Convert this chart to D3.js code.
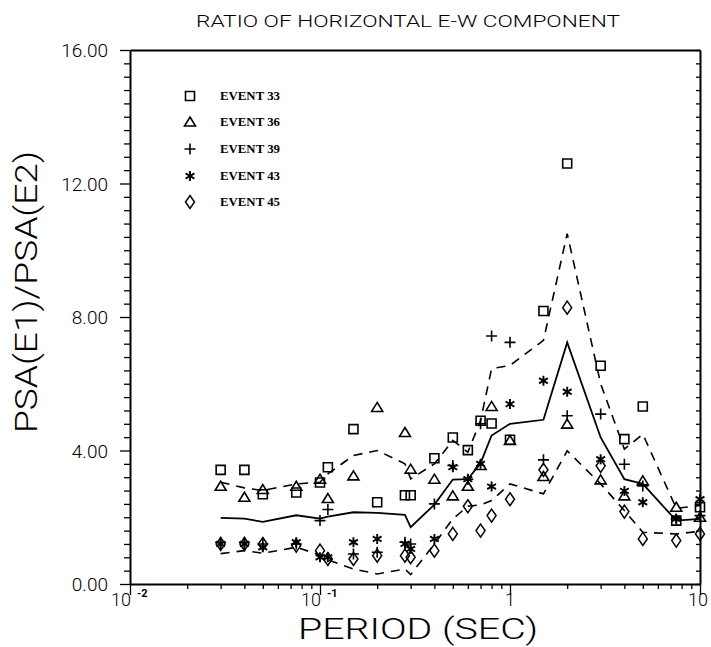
<!DOCTYPE html>
<html>
<head>
<meta charset="utf-8">
<script src="https://cdn.jsdelivr.net/npm/d3@7"></script>
<style>
  html, body { margin: 0; padding: 0; background: #fff; }
  svg { display: block; }
  text { fill: #000; }
</style>
</head>
<body>
<svg id="chart" width="711" height="647"></svg>
<script>
// ---- data ----
const periods = [0.03,0.04,0.05,0.075,0.1,0.11,0.15,0.2,0.28,0.3,0.4,0.5,0.6,0.7,0.8,1,1.5,2,3,4,5,7.5,10];
const event33 = [3.42,3.42,2.69,2.74,3.04,3.50,4.64,2.45,2.66,2.66,3.77,4.39,4.01,4.89,4.81,4.32,8.18,12.60,6.54,4.34,5.32,1.90,2.30];
const event36 = [2.93,2.60,2.83,2.93,3.14,2.56,3.24,5.29,4.54,3.44,3.14,2.64,2.93,3.55,5.32,4.30,3.22,4.79,3.12,2.64,3.09,2.30,2.00];
const event39 = [1.25,1.25,1.20,1.20,1.90,2.23,0.90,0.95,1.25,1.20,2.40,3.55,3.14,4.80,7.43,7.24,3.72,5.04,5.09,3.59,2.94,1.95,2.05];
const event43 = [1.20,1.20,1.10,1.25,0.80,0.80,1.25,1.35,1.20,1.05,1.35,3.50,3.14,3.60,2.92,5.39,6.09,5.76,3.74,2.79,2.45,1.95,2.54];
const event45 = [1.20,1.20,1.20,1.15,1.00,0.75,0.75,0.85,0.85,0.80,1.00,1.50,2.33,1.60,2.05,2.54,3.42,8.28,3.54,2.17,1.35,1.30,1.50];
const meanRatio  = [1.98,1.96,1.86,2.06,1.96,2.02,2.15,2.13,2.07,1.70,2.38,3.13,3.14,3.62,4.45,4.80,4.92,7.24,4.39,3.14,3.00,1.90,1.95];
const upperRatio = [3.05,2.88,2.80,3.00,3.05,3.30,3.85,4.00,3.60,3.15,3.60,4.30,3.95,4.90,6.45,6.55,7.30,10.50,6.00,4.04,4.49,2.27,2.35];
const lowerRatio = [0.91,1.00,0.92,1.10,0.87,0.72,0.45,0.30,0.45,0.28,1.20,1.95,2.33,2.37,2.50,3.00,2.70,3.99,3.00,2.20,1.55,1.50,1.58];
const eventNames = ["EVENT 33","EVENT 36","EVENT 39","EVENT 43","EVENT 45"];
const yTickLabels = [0, 4, 8, 12, 16];
const xMajorTicks = [0.01, 0.1, 1, 10];
const titleText = "RATIO OF HORIZONTAL E-W COMPONENT";
const xTitle = "PERIOD (SEC)";
const yTitle = "PSA(E1)/PSA(E2)";

// ---- layout ----
const L = 130, R = 700, T = 50, B = 584;
const svg = d3.select("#chart");
const x = d3.scaleLog().domain([0.01, 10]).range([L, R]);
const y = d3.scaleLinear().domain([0, 16]).range([B, T]);
const font = "Roboto, 'Open Sans', 'DejaVu Sans', sans-serif";

// marker shapes
const shapes = {
  square:  "M-4.5,-4.5H4.5V4.5H-4.5Z",
  triangle:"M0,-5L5.5,4L-5.5,4Z",
  plus:    "M-5.5,0H5.5M0,-5.5V5.5",
  star:    "M0,-5V5M-4.4,-2.6L4.4,2.6M-4.4,2.6L4.4,-2.6",
  diamond: "M0,-6.5L4.5,0L0,6.5L-4.5,0Z"
};
const series = [
  {name: eventNames[0], values: event33, shape: "square",   sw: 1.6},
  {name: eventNames[1], values: event36, shape: "triangle", sw: 1.6},
  {name: eventNames[2], values: event39, shape: "plus",     sw: 1.6},
  {name: eventNames[3], values: event43, shape: "star",     sw: 1.9},
  {name: eventNames[4], values: event45, shape: "diamond",  sw: 1.5}
];

// ---- axes ----
const logTicks = [];
for (let e = -2; e <= 0; e++) for (let k = 1; k <= 9; k++) logTicks.push(k * Math.pow(10, e));
logTicks.push(10);
const xMinor = logTicks.filter(v => !xMajorTicks.some(m => Math.abs(m - v) < 1e-9));

function styleAxis(g, w) {
  g.selectAll("path.domain").attr("stroke", "#000").attr("stroke-width", w || 2);
  g.selectAll(".tick line").attr("stroke", "#000").attr("stroke-width", 1.3);
  g.selectAll(".tick text").remove();
}

// bottom axis (minor + major)
svg.append("g").attr("transform", `translate(0,${B})`)
  .call(d3.axisBottom(x).tickValues(xMinor).tickSizeInner(5).tickSizeOuter(0).tickFormat(""))
  .call(g => styleAxis(g, 2));
svg.append("g").attr("transform", `translate(0,${B})`)
  .call(d3.axisBottom(x).tickValues(xMajorTicks).tickSizeInner(11).tickSizeOuter(0).tickFormat(""))
  .call(g => { styleAxis(g, 2); g.select("path.domain").remove(); });

// top frame
svg.append("g").attr("transform", `translate(0,${T})`)
  .call(d3.axisTop(x).tickValues([]).tickSizeOuter(0))
  .call(g => styleAxis(g, 2));

// left axis
const yMinor = d3.range(0, 16.001, 0.4).map(v => +v.toFixed(2)).filter(v => !yTickLabels.includes(v));
svg.append("g").attr("transform", `translate(${L},0)`)
  .call(d3.axisLeft(y).tickValues(yMinor).tickSizeInner(6).tickSizeOuter(0).tickFormat(""))
  .call(g => styleAxis(g, 2));
svg.append("g").attr("transform", `translate(${L},0)`)
  .call(d3.axisLeft(y).tickValues(yTickLabels).tickSizeInner(10).tickSizeOuter(0).tickFormat(""))
  .call(g => { styleAxis(g, 2); g.select("path.domain").remove(); });
// right frame with inward ticks
svg.append("g").attr("transform", `translate(${R},0)`)
  .call(d3.axisLeft(y).tickValues(yMinor.concat(yTickLabels)).tickSizeInner(4).tickSizeOuter(0).tickFormat(""))
  .call(g => styleAxis(g, 2));

// y tick labels
svg.append("g").selectAll("text").data(yTickLabels).join("text")
  .attr("x", 108).attr("y", d => y(d) + 7)
  .attr("text-anchor", "end")
  .style("font-family", font).style("font-weight", 300).style("font-size", "19px")
  .text(d => d3.format(".2f")(d));

// x tick labels
const xl = svg.append("g").style("font-family", font).style("font-weight", 300);
[0.01, 0.1].forEach((v, i) => {
  xl.append("text").attr("x", x(v) + 1).attr("y", 606).attr("text-anchor", "end")
    .style("font-size", "18px").text("10");
  xl.append("text").attr("x", x(v) + 7).attr("y", 597).attr("text-anchor", "start")
    .style("font-size", "11px").style("font-weight", 700).text(i === 0 ? "-2" : "-1");
});
xl.append("text").attr("x", x(1)).attr("y", 606).attr("text-anchor", "middle")
  .style("font-size", "18px").text("1");
xl.append("text").attr("x", x(10) - 2).attr("y", 606).attr("text-anchor", "middle")
  .style("font-size", "18px").text("10");

// titles
svg.append("text").attr("x", 408).attr("y", 27).attr("text-anchor", "middle")
  .attr("textLength", 424).attr("lengthAdjust", "spacingAndGlyphs")
  .style("font-family", font).style("font-weight", 300).style("font-size", "17px")
  .text(titleText);
svg.append("text").attr("x", 418).attr("y", 639).attr("text-anchor", "middle")
  .attr("textLength", 240).attr("lengthAdjust", "spacingAndGlyphs")
  .style("font-family", font).style("font-weight", 300).style("font-size", "30px")
  .text(xTitle);
svg.append("text").attr("transform", "translate(37,292) rotate(-90)")
  .attr("text-anchor", "middle")
  .attr("textLength", 282).attr("lengthAdjust", "spacingAndGlyphs")
  .style("font-family", font).style("font-weight", 300).style("font-size", "31px")
  .text(yTitle);

// ---- lines ----
const line = d3.line().x(d => x(d[0])).y(d => y(d[1]));
const zipP = arr => periods.map((p, i) => [p, arr[i]]);
svg.append("path").attr("d", line(zipP(upperRatio))).attr("fill", "none")
  .attr("stroke", "#000").attr("stroke-width", 1.6).attr("stroke-dasharray", "9,7");
svg.append("path").attr("d", line(zipP(lowerRatio))).attr("fill", "none")
  .attr("stroke", "#000").attr("stroke-width", 1.6).attr("stroke-dasharray", "9,7");
svg.append("path").attr("d", line(zipP(meanRatio))).attr("fill", "none")
  .attr("stroke", "#000").attr("stroke-width", 1.8);

// ---- markers ----
series.forEach(s => {
  svg.append("g").selectAll("path").data(zipP(s.values)).join("path")
    .attr("transform", d => `translate(${x(d[0])},${y(d[1])})`)
    .attr("d", shapes[s.shape])
    .attr("fill", "none").attr("stroke", "#000").attr("stroke-width", s.sw)
    .attr("stroke-linejoin", "miter");
});

// ---- legend ----
const legY = [96, 122, 149, 176, 202];
const leg = svg.append("g");
series.forEach((s, i) => {
  leg.append("path").attr("transform", `translate(190,${legY[i]})`)
    .attr("d", shapes[s.shape]).attr("fill", "none")
    .attr("stroke", "#000").attr("stroke-width", s.sw);
  leg.append("text").attr("x", 220).attr("y", legY[i] + 4)
    .attr("textLength", 60).attr("lengthAdjust", "spacingAndGlyphs")
    .style("font-family", "'Liberation Serif', 'DejaVu Serif', serif")
    .style("font-weight", 700).style("font-size", "12px")
    .text(s.name);
});
</script>
</body>
</html>
